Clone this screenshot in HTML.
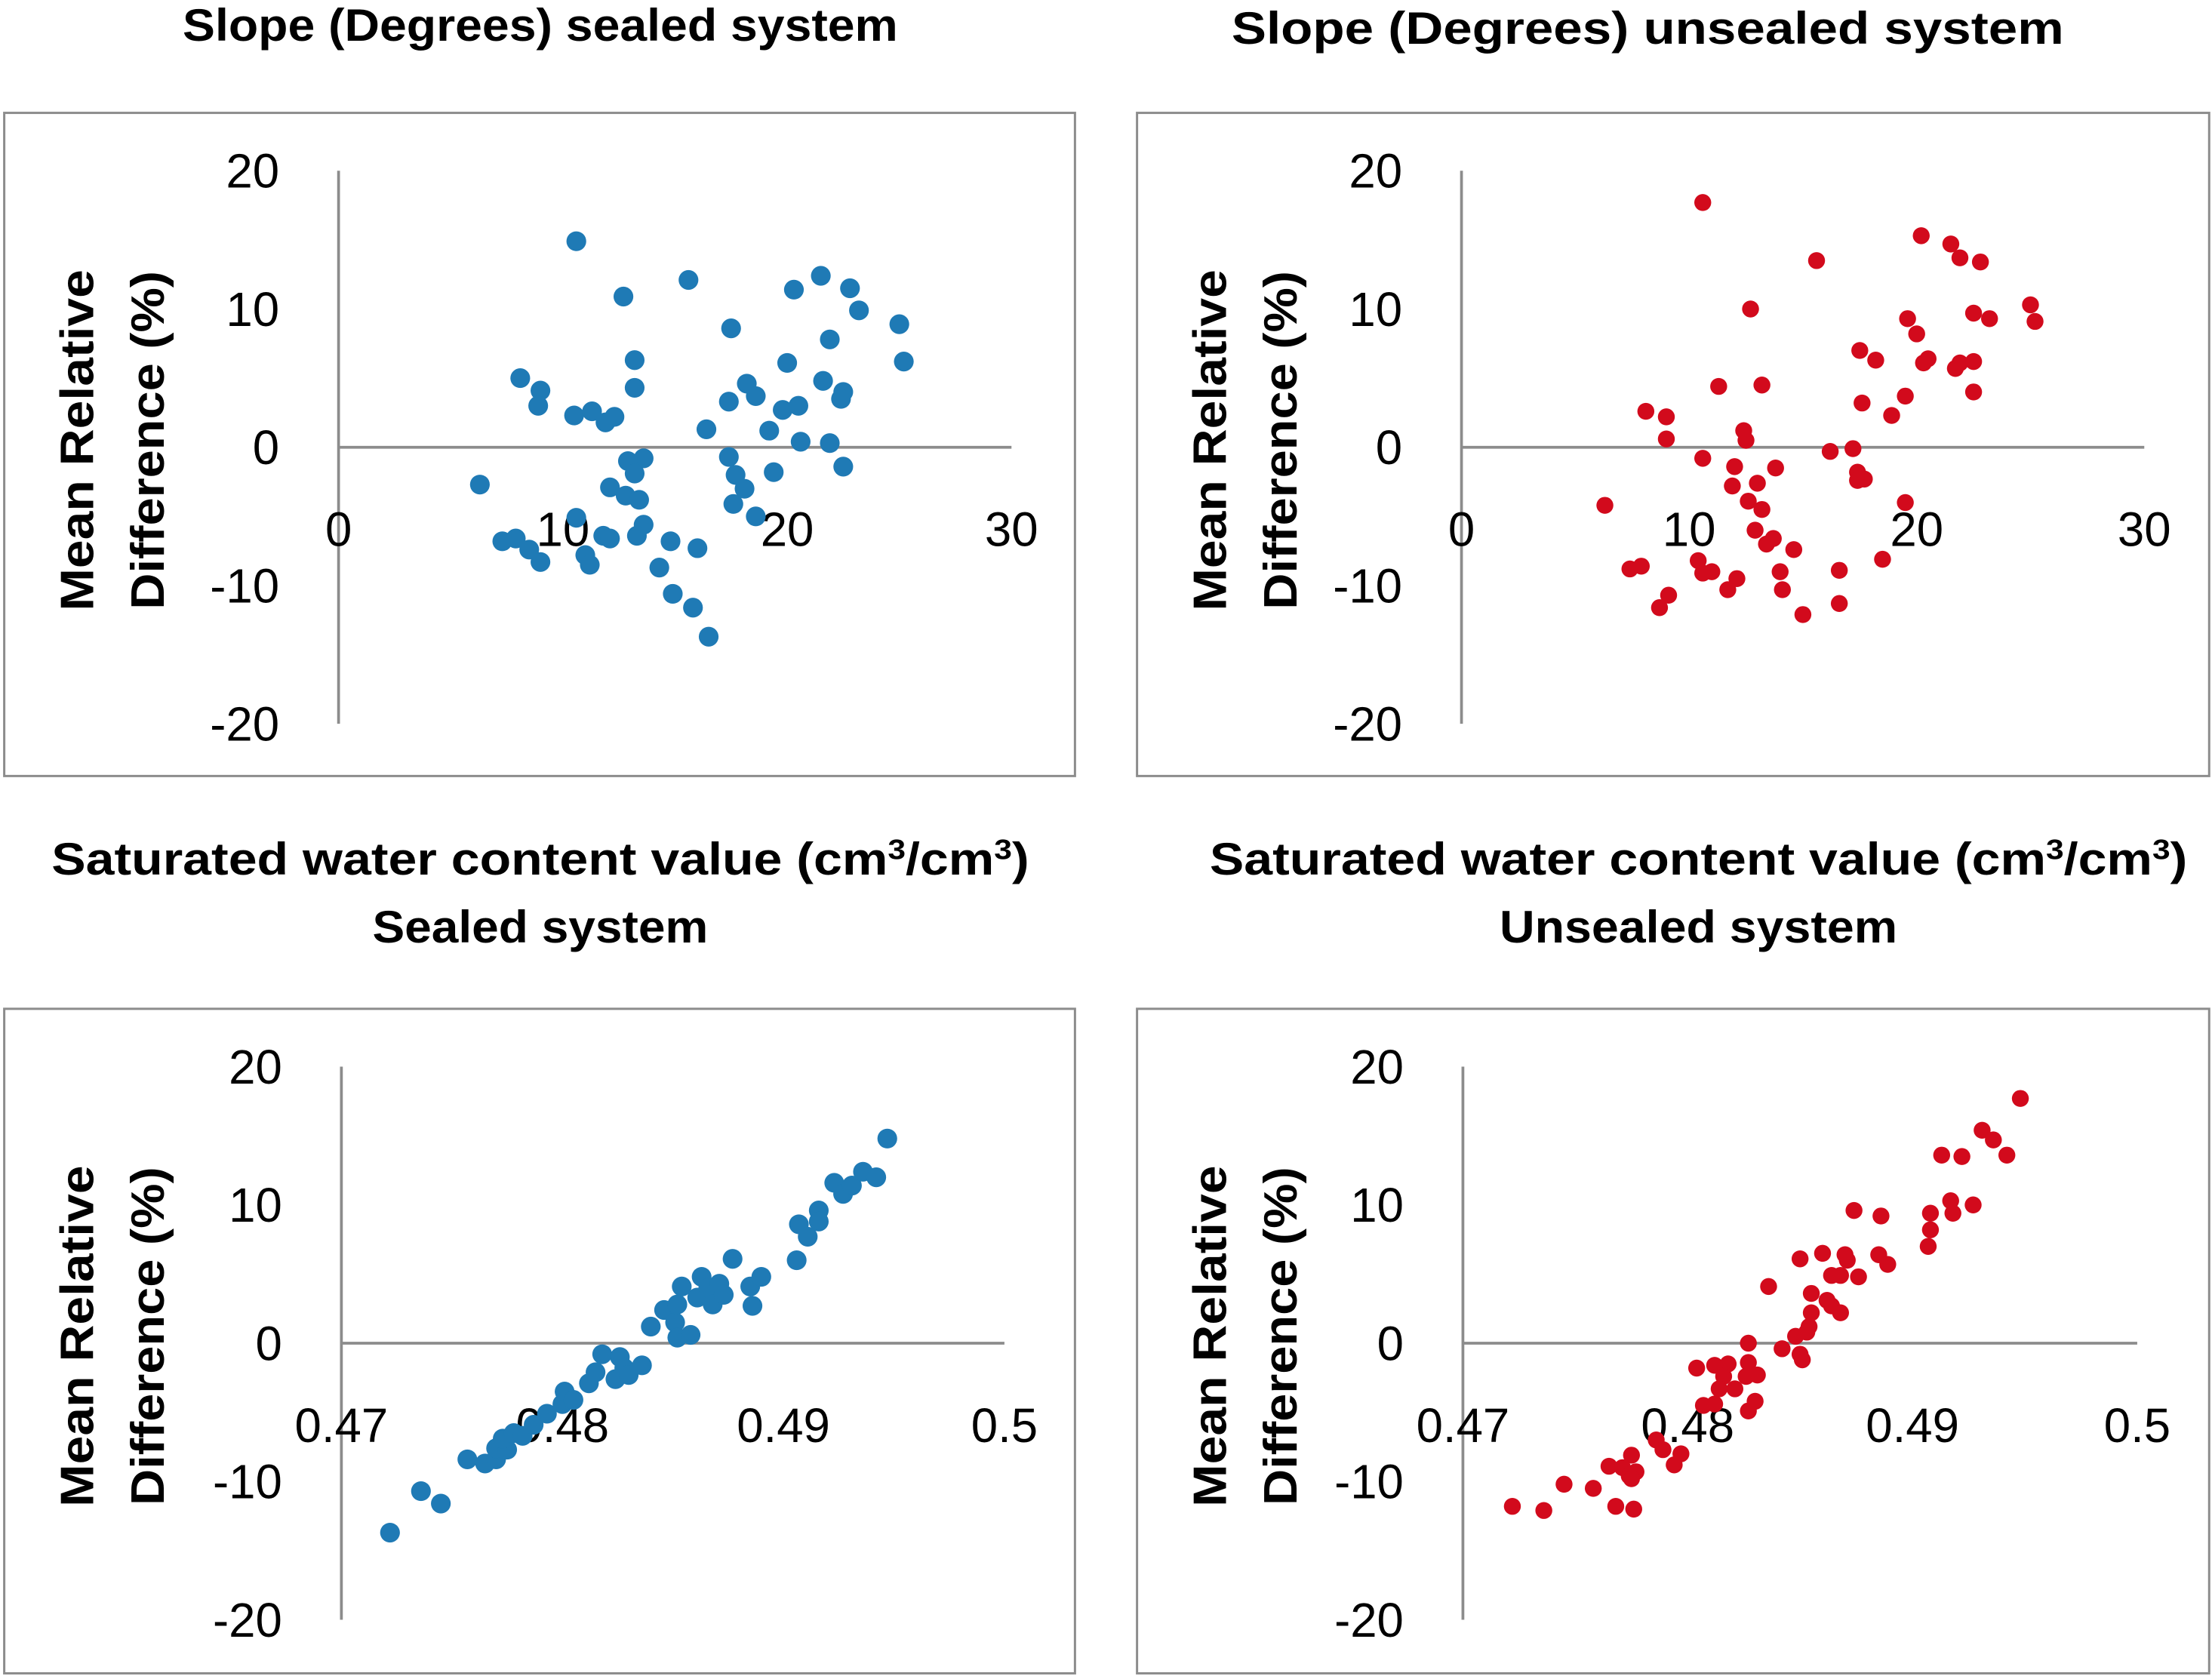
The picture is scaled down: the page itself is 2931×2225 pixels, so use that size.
<!DOCTYPE html>
<html><head><meta charset="utf-8"><style>
html,body{margin:0;padding:0;background:#fff;}
svg{display:block;}
text{font-family:"Liberation Sans",sans-serif;}
</style></head><body>
<svg id="fig" width="2931" height="2225" viewBox="0 0 1568 1190" preserveAspectRatio="none" xmlns="http://www.w3.org/2000/svg">
<g font-weight="bold" font-size="32" text-anchor="middle" fill="#000">
<text x="383" y="29" textLength="507" lengthAdjust="spacingAndGlyphs">Slope (Degrees) sealed system</text>
<text x="1168" y="31" textLength="590" lengthAdjust="spacingAndGlyphs">Slope (Degrees) unsealed system</text>
<text x="383" y="620" textLength="693" lengthAdjust="spacingAndGlyphs">Saturated water content value (cm<tspan font-size="20" dy="-11">3</tspan><tspan dy="11">/cm</tspan><tspan font-size="20" dy="-11">3</tspan><tspan dy="11">)</tspan></text>
<text x="383" y="668" textLength="238" lengthAdjust="spacingAndGlyphs">Sealed system</text>
<text x="1204" y="620" textLength="693" lengthAdjust="spacingAndGlyphs">Saturated water content value (cm<tspan font-size="20" dy="-11">3</tspan><tspan dy="11">/cm</tspan><tspan font-size="20" dy="-11">3</tspan><tspan dy="11">)</tspan></text>
<text x="1204" y="668" textLength="282" lengthAdjust="spacingAndGlyphs">Unsealed system</text>
</g>
</svg>
<script>
// Panel 1: slope, sealed
const slopeSealedX=[10.6,15.6,12.7,20.3,21.5,22.8,23.2,25.0,25.2,17.5,21.9,20.0,13.2,8.1,9.0,8.9,13.2,18.2,18.6,21.6,22.5,22.4,17.4,19.8,20.5,16.4,19.2,10.5,11.3,12.3,11.9,20.6,21.9,13.6,12.9,13.2,17.4,17.7,18.1,19.4,22.5,6.3,12.1,12.8,13.4,13.6,17.6,18.6,10.6,7.3,7.9,8.5,9.0,11.0,11.2,11.8,12.1,13.3,14.8,16.0,14.3,14.9,15.8,16.5];
const slopeSealedY=[14.9,12.1,10.9,11.4,12.4,11.5,9.9,8.9,6.2,8.6,7.8,6.1,6.3,5.0,4.1,3.0,4.3,4.6,3.7,4.8,4.0,3.5,3.3,2.7,3.0,1.3,1.2,2.3,2.6,2.2,1.8,0.4,0.3,-0.8,-1.0,-1.9,-0.7,-2.0,-3.0,-1.8,-1.4,-2.7,-2.9,-3.5,-3.8,-5.6,-4.1,-5.0,-5.1,-6.8,-6.6,-7.4,-8.3,-7.8,-8.5,-6.4,-6.6,-6.4,-6.8,-7.3,-8.7,-10.6,-11.6,-13.7];
// Panel 2: slope, unsealed
const slopeUnsealedX=[10.6,20.2,21.5,21.9,22.8,15.6,12.7,23.2,22.5,19.6,20.0,25.0,25.2,17.5,18.2,20.5,20.3,21.7,21.9,22.5,22.5,11.3,13.2,17.6,19.5,18.9,8.1,9.0,9.0,12.4,12.5,16.2,17.2,10.6,12.0,13.0,13.8,11.9,17.4,17.4,17.7,12.6,13.2,6.3,19.5,13.4,13.7,12.9,14.6,16.6,10.4,7.4,7.9,10.6,11.0,12.1,11.7,14.0,14.1,15.0,16.6,8.7,9.1,18.5];
const slopeUnsealedY=[17.7,15.3,14.7,13.7,13.4,13.5,10.0,9.3,9.7,9.3,8.2,10.3,9.1,7.0,6.3,6.4,6.1,5.7,6.1,6.2,4.0,4.4,4.5,3.2,3.7,2.3,2.6,2.2,0.6,1.2,0.5,-0.3,-0.1,-0.8,-1.4,-2.6,-1.5,-2.8,-1.8,-2.4,-2.3,-3.9,-4.5,-4.2,-4.0,-7.0,-6.6,-6.0,-7.4,-8.9,-8.2,-8.8,-8.6,-9.1,-9.0,-9.5,-10.3,-9.0,-10.3,-12.1,-11.3,-11.6,-10.7,-8.1];
// Panel 3: saturated water content, sealed
const swcSealedX=[0.4722,0.4736,0.4745,0.4757,0.4765,0.4770,0.4770,0.4775,0.4773,0.4778,0.4782,0.4787,0.4793,0.4800,0.4801,0.4805,0.4812,0.4815,0.4818,0.4824,0.4826,0.4828,0.4830,0.4836,0.4840,0.4846,0.4851,0.4852,0.4854,0.4852,0.4858,0.4861,0.4863,0.4866,0.4868,0.4871,0.4873,0.4877,0.4885,0.4886,0.4890,0.4907,0.4906,0.4911,0.4916,0.4916,0.4923,0.4927,0.4931,0.4936,0.4942,0.4947];
const swcSealedY=[-13.7,-10.7,-11.6,-8.4,-8.7,-8.4,-7.6,-7.7,-6.9,-6.5,-6.7,-5.9,-5.1,-4.4,-3.5,-4.1,-2.9,-2.1,-0.8,-2.6,-1.0,-1.8,-2.3,-1.6,1.2,2.4,1.5,2.8,4.1,0.4,0.6,3.3,4.8,4.0,2.8,4.3,3.5,6.1,4.1,2.7,4.8,8.6,6.0,7.7,9.6,8.8,11.6,10.8,11.4,12.4,12.0,14.8];
// Panel 4: saturated water content, unsealed
const swcUnsealedX=[0.4948,0.4931,0.4936,0.4942,0.4913,0.4922,0.4927,0.4917,0.4918,0.4908,0.4908,0.4907,0.4874,0.4886,0.4885,0.4889,0.4870,0.4871,0.4860,0.4850,0.4836,0.4864,0.4868,0.4876,0.4855,0.4862,0.4864,0.4868,0.4855,0.4854,0.4853,0.4848,0.4842,0.4850,0.4851,0.4827,0.4827,0.4818,0.4812,0.4804,0.4816,0.4826,0.4831,0.4814,0.4821,0.4812,0.4830,0.4827,0.4807,0.4786,0.4789,0.4797,0.4794,0.4775,0.4765,0.4771,0.4774,0.4777,0.4775,0.4758,0.4745,0.4768,0.4776,0.4736,0.4722];
const swcUnsealedY=[17.7,15.4,14.7,13.6,13.6,13.5,10.0,10.3,9.4,9.4,8.2,7.0,9.6,9.2,6.4,5.7,6.4,6.0,6.5,6.1,4.1,4.9,4.9,4.8,3.6,3.1,2.7,2.2,2.2,1.2,0.8,0.5,-0.4,-0.8,-1.2,0.0,-1.4,-1.5,-1.6,-1.8,-2.4,-2.4,-2.3,-3.3,-3.3,-4.4,-4.2,-4.9,-4.5,-7.0,-7.7,-8.0,-8.8,-8.1,-8.9,-9.0,-9.6,-9.3,-9.8,-10.5,-10.2,-11.8,-12.0,-12.1,-11.8];
const yTicks=[20,10,0,-10,-20];
const slopeTicks=[0,10,20,30];
const swcTicks=[0.47,0.48,0.49,0.5];
const swcTickLabels=["0.47","0.48","0.49","0.5"];

const NS="http://www.w3.org/2000/svg";
const svg=document.getElementById('fig');
function mk(tag,attrs,parent){const e=document.createElementNS(NS,tag);for(const k in attrs)e.setAttribute(k,attrs[k]);parent.appendChild(e);return e;}

function panel(name,box,x0,x1,xmin,xmax,y0px,xs,ys,xticks,xlabels,color,rad){
  const g=mk('g',{},svg);
  
  
  const r=mk('rect',{x:box[0],y:box[1],width:box[2],height:box[3],fill:'none',stroke:'#8c8c8c','stroke-width':1.6},g);
  
  
  const yScale=v=>y0px-v*9.8;
  const xScale=v=>x0+(v-xmin)/(xmax-xmin)*(x1-x0);
  const ya=mk('line',{x1:x0,x2:x0,y1:yScale(20),y2:yScale(-20),stroke:'#8c8c8c','stroke-width':2},g);
  
  
  const xa=mk('line',{x1:x0,x2:x1,y1:y0px,y2:y0px,stroke:'#8c8c8c','stroke-width':2},g);
  
  
  yTicks.forEach(t=>{
    const tx=mk('text',{x:x0-42,y:yScale(t)+12,'font-size':34,'text-anchor':'end',fill:'#000'},g);
    tx.textContent=String(t);
    
    
  });
  xticks.forEach((t,i)=>{
    const tx=mk('text',{x:xScale(t),y:y0px+70,'font-size':34,'text-anchor':'middle',fill:'#000'},g);
    tx.textContent=xlabels[i];
    
    
  });
  const cy=yScale(0)-5;
  const t1=mk('text',{x:0,y:0,'font-size':33,'font-weight':'bold','text-anchor':'middle',textLength:242,lengthAdjust:'spacingAndGlyphs',transform:`translate(${box[0]+63},${cy}) rotate(-90)`},g);
  t1.textContent='Mean Relative';
  
  
  const t2=mk('text',{x:0,y:0,'font-size':33,'font-weight':'bold','text-anchor':'middle',textLength:240,lengthAdjust:'spacingAndGlyphs',transform:`translate(${box[0]+113},${cy}) rotate(-90)`},g);
  t2.textContent='Difference (%)';
  
  
  xs.forEach((v,i)=>{
    const c=mk('circle',{cx:xScale(v),cy:yScale(ys[i]),r:rad,fill:color},g);
    
    
  });
}
panel('panel-slope-sealed',[3,80,759,470],240,717,0,30,317,slopeSealedX,slopeSealedY,slopeTicks,slopeTicks.map(String),'#1f7ab5',7);
panel('panel-slope-unsealed',[806,80,760,470],1036,1520,0,30,317,slopeUnsealedX,slopeUnsealedY,slopeTicks,slopeTicks.map(String),'#d20a1c',6);
panel('panel-swc-sealed',[3,715,759,471],242,712,0.47,0.5,952,swcSealedX,swcSealedY,swcTicks,swcTickLabels,'#1f7ab5',7);
panel('panel-swc-unsealed',[806,715,760,471],1037,1515,0.47,0.5,952,swcUnsealedX,swcUnsealedY,swcTicks,swcTickLabels,'#d20a1c',6);
</script>
</body></html>
